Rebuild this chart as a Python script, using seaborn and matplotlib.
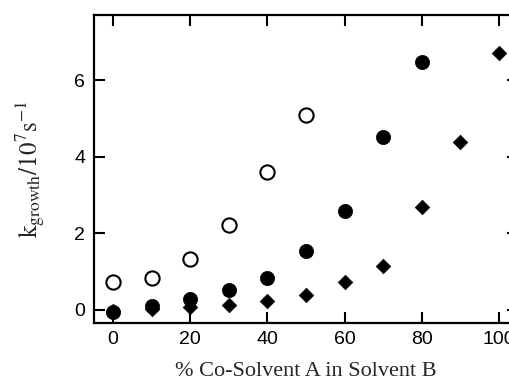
import matplotlib
matplotlib.use("Agg")
import matplotlib.pyplot as plt
import seaborn as sns
import pandas as pd

# Data
x_open = [0, 10, 20, 30, 40, 50]
y_open = [0.73, 0.83, 1.33, 2.21, 3.59, 5.08]

x_filled = [0, 10, 20, 30, 40, 50, 60, 70, 80]
y_filled = [-0.05, 0.11, 0.29, 0.52, 0.83, 1.54, 2.58, 4.52, 6.48]

x_diamond = [0, 10, 20, 30, 40, 50, 60, 70, 80, 90, 100]
y_diamond = [-0.03, 0.02, 0.08, 0.14, 0.24, 0.38, 0.74, 1.16, 2.69, 4.39, 6.71]

xticks = [0, 20, 40, 60, 80, 100]
yticks = [0, 2, 4, 6]

sns.set_theme(style="ticks")
plt.rcParams['font.family'] = ['Liberation Sans', 'DejaVu Sans']
plt.rcParams['mathtext.fontset'] = 'stix'

fig = plt.figure(figsize=(5.10, 3.83), dpi=100)
ax = fig.add_axes([93.7 / 510, 60 / 383, (518.3 - 93.7) / 510, 308 / 383])

df_o = pd.DataFrame({"x": x_open, "y": y_open})
df_f = pd.DataFrame({"x": x_filled, "y": y_filled})
df_d = pd.DataFrame({"x": x_diamond, "y": y_diamond})

sns.scatterplot(data=df_o, x="x", y="y", ax=ax, marker="o", s=105,
                facecolor="white", edgecolor="black", linewidth=1.5, zorder=3)
sns.scatterplot(data=df_f, x="x", y="y", ax=ax, marker="o", s=105,
                color="black", edgecolor="black", linewidth=0.5, zorder=3)
sns.scatterplot(data=df_d, x="x", y="y", ax=ax, marker="D", s=55,
                color="black", edgecolor="black", linewidth=0.5, zorder=4)

ax.set_xlim(-5, 105)
ax.set_ylim(-0.34, 7.7)
ax.set_xticks(xticks)
ax.set_yticks(yticks)
ax.tick_params(direction="in", length=8, width=1.5, top=True, right=True,
               labelsize=14, pad=6, colors="black")
for sp in ax.spines.values():
    sp.set_linewidth(1.6)
    sp.set_color("black")

ax.set_xlabel("% Co-Solvent A in Solvent B", family="Liberation Serif",
              fontsize=16, labelpad=10)
ax.set_ylabel(r"$\mathrm{k_{growth}/10^{7}s^{-1}}$", fontsize=18, labelpad=20)

fig.savefig("out.png", dpi=100)
